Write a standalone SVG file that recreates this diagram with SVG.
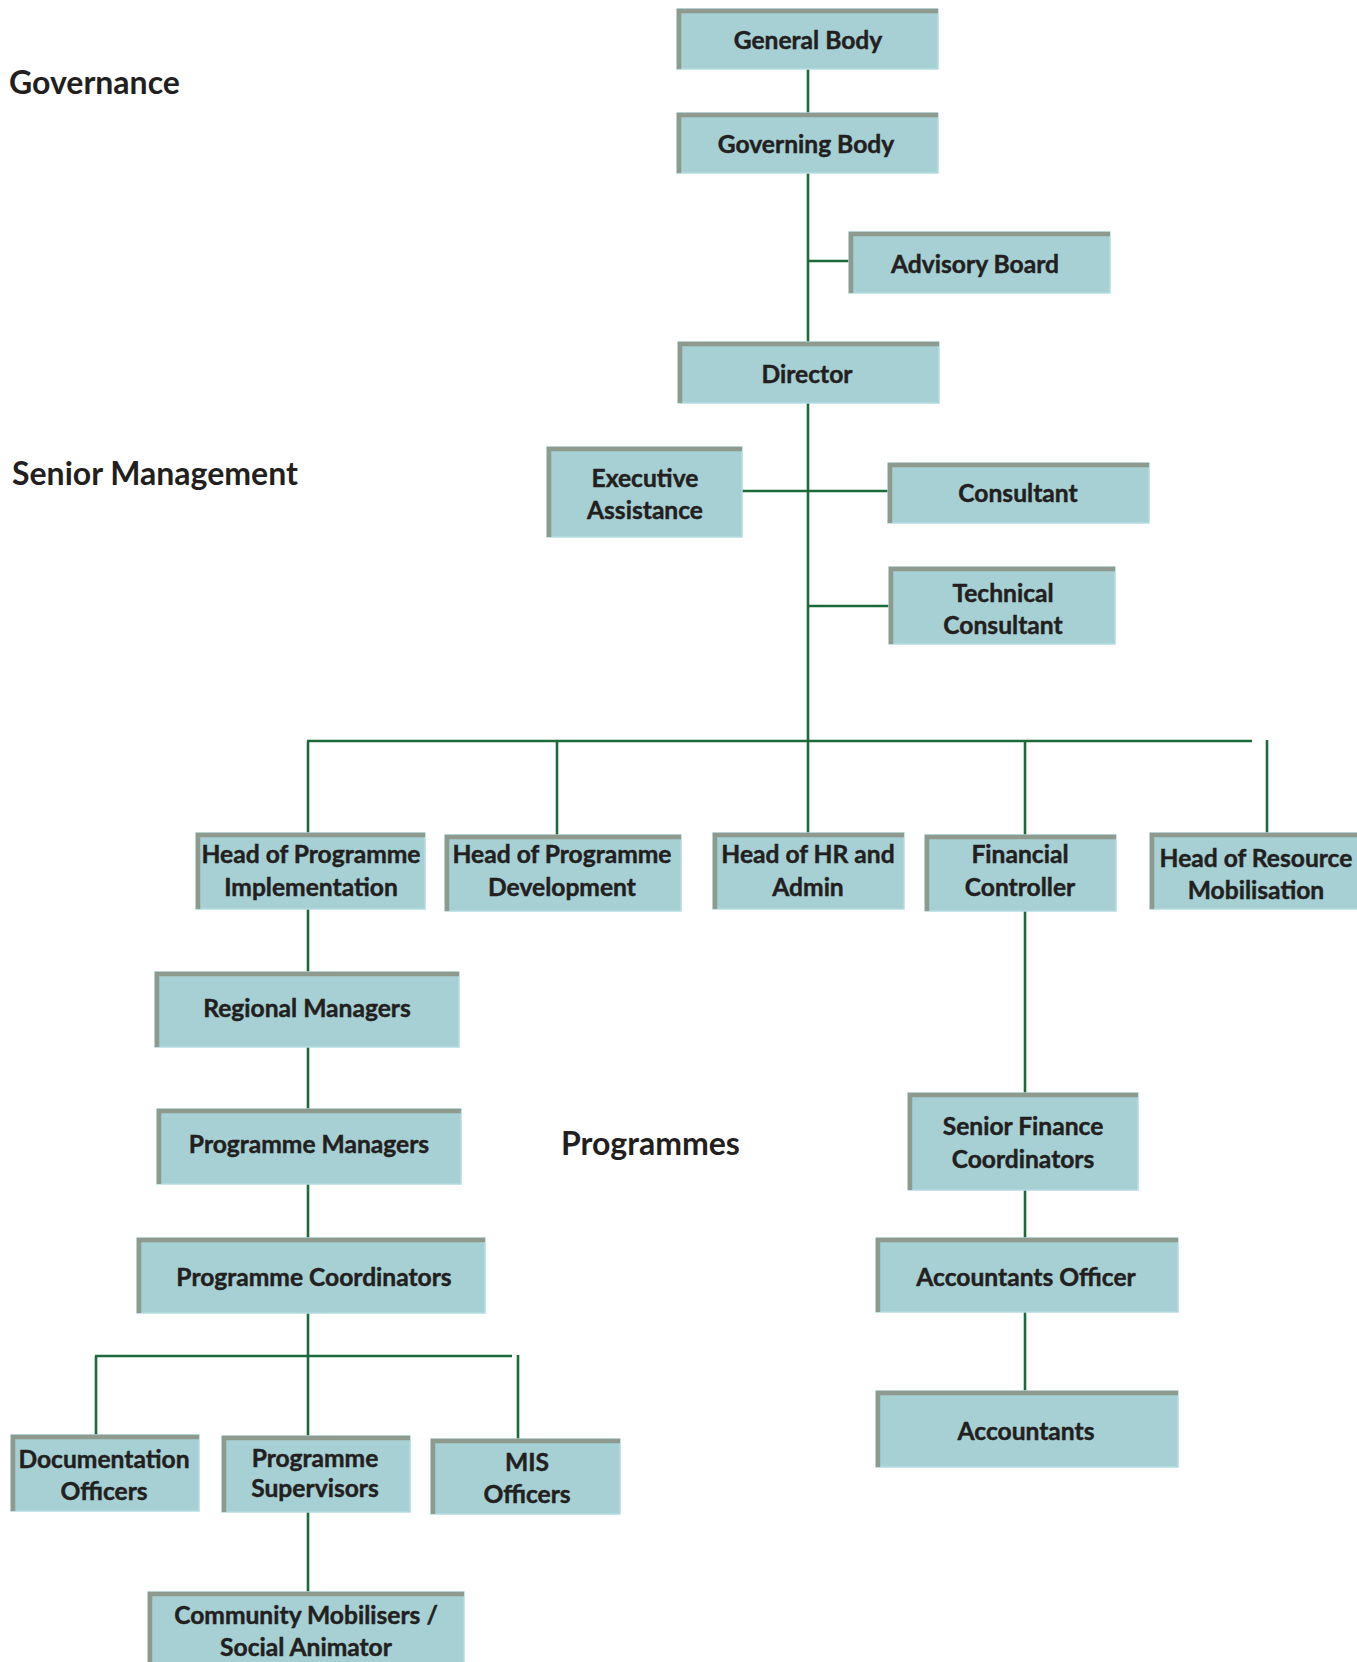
<svg xmlns="http://www.w3.org/2000/svg" width="1357" height="1662" viewBox="0 0 1357 1662">
<style>
.bx{fill:#a6d0d4;stroke:#b3dde1;stroke-width:1.5}
.sh{fill:none;stroke:#8e9a8d;stroke-width:4.5}
.t{font-family:Lato,"Open Sans","Liberation Sans",sans-serif;font-weight:700;font-size:24.6px;fill:#231f20;stroke:#231f20;stroke-width:0.45;text-anchor:middle}
.h{font-family:Lato,"Open Sans","Liberation Sans",sans-serif;font-weight:700;font-size:32px;fill:#231f20}
.c{fill:none;stroke:#1b6a3a;stroke-width:2.6}
</style>
<rect width="1357" height="1662" fill="#ffffff"/>
<g id="headings">
<text class="h" x="9" y="94">Governance</text>
<text class="h" x="12" y="485">Senior Management</text>
<text class="h" x="561" y="1155">Programmes</text>
</g>
<g id="connectors">
<path class="c" d="M808,69 V742"/>
<path class="c" d="M808,261 H849"/>
<path class="c" d="M742,491 H888"/>
<path class="c" d="M808,606 H889"/>
<path class="c" d="M307,741 H1252"/>
<path class="c" d="M308,741 V833"/>
<path class="c" d="M557,741 V835"/>
<path class="c" d="M808,741 V833"/>
<path class="c" d="M1025,741 V835"/>
<path class="c" d="M1267,740 V833"/>
<path class="c" d="M308,909 V972"/>
<path class="c" d="M308,1047 V1109"/>
<path class="c" d="M308,1184 V1238"/>
<path class="c" d="M308,1313 V1436"/>
<path class="c" d="M308,1512 V1592"/>
<path class="c" d="M95,1356 H512"/>
<path class="c" d="M96,1356 V1435"/>
<path class="c" d="M518,1355 V1439"/>
<path class="c" d="M1025,911 V1093"/>
<path class="c" d="M1025,1190 V1238"/>
<path class="c" d="M1025,1312 V1391"/>
</g>
<g id="general-body"><rect class="bx" x="677" y="9" width="261" height="60"/><path class="sh" d="M679,69 V11 H938"/><text class="t" x="808" y="48.5">General Body</text></g>
<g id="governing-body"><rect class="bx" x="677" y="113" width="261" height="60"/><path class="sh" d="M679,173 V115 H938"/><text class="t" x="806" y="152.5">Governing Body</text></g>
<g id="advisory-board"><rect class="bx" x="849" y="232" width="261" height="61"/><path class="sh" d="M851,293 V234 H1110"/><text class="t" x="975" y="272.5">Advisory Board</text></g>
<g id="director"><rect class="bx" x="678" y="342" width="261" height="61"/><path class="sh" d="M680,403 V344 H939"/><text class="t" x="807" y="382.5">Director</text></g>
<g id="executive-assistance"><rect class="bx" x="547" y="447" width="195" height="90"/><path class="sh" d="M549,537 V449 H742"/><text class="t" x="645" y="486.5">Executive</text><text class="t" x="645" y="518.5">Assistance</text></g>
<g id="consultant"><rect class="bx" x="888" y="463" width="261" height="60"/><path class="sh" d="M890,523 V465 H1149"/><text class="t" x="1018" y="501.5">Consultant</text></g>
<g id="technical-consultant"><rect class="bx" x="889" y="567" width="226" height="77"/><path class="sh" d="M891,644 V569 H1115"/><text class="t" x="1003" y="601.5">Technical</text><text class="t" x="1003" y="633.5">Consultant</text></g>
<g id="head-programme-implementation"><rect class="bx" x="196" y="833" width="229" height="76"/><path class="sh" d="M198,909 V835 H425"/><text class="t" x="311" y="862.5">Head of Programme</text><text class="t" x="311" y="895.5">Implementation</text></g>
<g id="head-programme-development"><rect class="bx" x="445" y="835" width="236" height="76"/><path class="sh" d="M447,911 V837 H681"/><text class="t" x="562" y="862.5">Head of Programme</text><text class="t" x="562" y="895.5">Development</text></g>
<g id="head-hr-admin"><rect class="bx" x="713" y="833" width="191" height="76"/><path class="sh" d="M715,909 V835 H904"/><text class="t" x="808" y="862.5">Head of HR and</text><text class="t" x="808" y="895.5">Admin</text></g>
<g id="financial-controller"><rect class="bx" x="925" y="835" width="191" height="76"/><path class="sh" d="M927,911 V837 H1116"/><text class="t" x="1020" y="862.5">Financial</text><text class="t" x="1020" y="895.5">Controller</text></g>
<g id="head-resource-mobilisation"><rect class="bx" x="1150" y="833" width="210" height="76"/><path class="sh" d="M1152,909 V835 H1360"/><text class="t" x="1256" y="866.5">Head of Resource</text><text class="t" x="1256" y="898.5">Mobilisation</text></g>
<g id="regional-managers"><rect class="bx" x="155" y="972" width="304" height="75"/><path class="sh" d="M157,1047 V974 H459"/><text class="t" x="307" y="1016.5">Regional Managers</text></g>
<g id="programme-managers"><rect class="bx" x="157" y="1109" width="304" height="75"/><path class="sh" d="M159,1184 V1111 H461"/><text class="t" x="309" y="1152.5">Programme Managers</text></g>
<g id="programme-coordinators"><rect class="bx" x="137" y="1238" width="348" height="75"/><path class="sh" d="M139,1313 V1240 H485"/><text class="t" x="314" y="1285.5">Programme Coordinators</text></g>
<g id="documentation-officers"><rect class="bx" x="11" y="1435" width="188" height="76"/><path class="sh" d="M13,1511 V1437 H199"/><text class="t" x="104" y="1467.5">Documentation</text><text class="t" x="104" y="1499.5">Officers</text></g>
<g id="programme-supervisors"><rect class="bx" x="222" y="1436" width="188" height="76"/><path class="sh" d="M224,1512 V1438 H410"/><text class="t" x="315" y="1466.5">Programme</text><text class="t" x="315" y="1496.5">Supervisors</text></g>
<g id="mis-officers"><rect class="bx" x="431" y="1439" width="189" height="75"/><path class="sh" d="M433,1514 V1441 H620"/><text class="t" x="527" y="1470.5">MIS</text><text class="t" x="527" y="1502.5">Officers</text></g>
<g id="community-mobilisers"><rect class="bx" x="148" y="1592" width="316" height="80"/><path class="sh" d="M150,1672 V1594 H464"/><text class="t" x="306" y="1623.5">Community Mobilisers /</text><text class="t" x="306" y="1655.5">Social Animator</text></g>
<g id="senior-finance-coordinators"><rect class="bx" x="908" y="1093" width="230" height="97"/><path class="sh" d="M910,1190 V1095 H1138"/><text class="t" x="1023" y="1134.5">Senior Finance</text><text class="t" x="1023" y="1167.5">Coordinators</text></g>
<g id="accountants-officer"><rect class="bx" x="876" y="1238" width="302" height="74"/><path class="sh" d="M878,1312 V1240 H1178"/><text class="t" x="1026" y="1285.5">Accountants Officer</text></g>
<g id="accountants"><rect class="bx" x="876" y="1391" width="302" height="76"/><path class="sh" d="M878,1467 V1393 H1178"/><text class="t" x="1026" y="1439.5">Accountants</text></g>
</svg>
